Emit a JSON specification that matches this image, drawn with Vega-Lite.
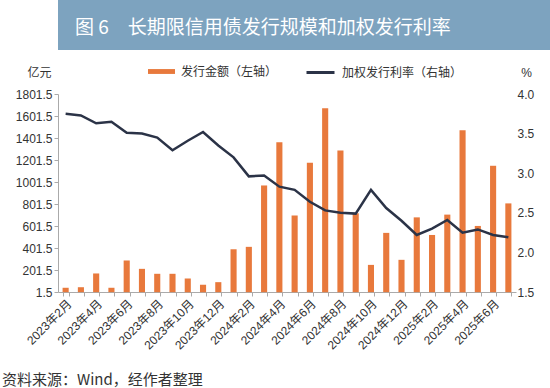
{
  "$schema": "https://vega.github.io/schema/vega-lite/v6.json",
  "padding": 0,
  "background": "white",
  "spacing": 7,
  "resolve": {"legend": {"fill": "independent", "stroke": "independent"}},
  "config": {
    "view": {"stroke": null},
    "font": "Liberation Sans, Noto Sans CJK SC"
  },
  "vconcat": [
    {
      "width": 550,
      "height": 50,
      "view": {"fill": "#7DA3BF", "stroke": null},
      "data": {"values": [{"t": "图 6　长期限信用债发行规模和加权发行利率"}]},
      "mark": {
        "type": "text",
        "align": "left",
        "baseline": "middle",
        "x": 17,
        "y": 28,
        "color": "#FFFFFF",
        "fontSize": 19,
        "font": "Noto Sans CJK SC"
      },
      "encoding": {"text": {"field": "t", "type": "nominal"}}
    },
    {
      "spacing": 0,
      "resolve": {"legend": {"fill": "independent", "stroke": "independent"}},
      "hconcat": [
        {
          "width": 458,
          "height": 198,
          "title": {
            "text": "资料来源：Wind，经作者整理",
            "orient": "bottom",
            "anchor": "start",
            "frame": "bounds",
            "offset": 22,
            "dx": 2,
            "fontSize": 15,
            "fontWeight": "normal",
            "color": "#333333",
            "font": "Noto Sans CJK SC"
          },
          "data": {
            "values": [
              {"m": "2023年2月", "amt": 40, "rate": 3.75},
              {"m": "2023年3月", "amt": 45, "rate": 3.73},
              {"m": "2023年4月", "amt": 170, "rate": 3.63},
              {"m": "2023年5月", "amt": 40, "rate": 3.65},
              {"m": "2023年6月", "amt": 288, "rate": 3.51},
              {"m": "2023年7月", "amt": 212, "rate": 3.50},
              {"m": "2023年8月", "amt": 167, "rate": 3.45},
              {"m": "2023年9月", "amt": 167, "rate": 3.29},
              {"m": "2023年10月", "amt": 124, "rate": 3.41},
              {"m": "2023年11月", "amt": 67, "rate": 3.52},
              {"m": "2023年12月", "amt": 91, "rate": 3.35},
              {"m": "2024年1月", "amt": 390, "rate": 3.20},
              {"m": "2024年2月", "amt": 412, "rate": 2.96},
              {"m": "2024年3月", "amt": 970, "rate": 2.97},
              {"m": "2024年4月", "amt": 1364, "rate": 2.83},
              {"m": "2024年5月", "amt": 696, "rate": 2.79},
              {"m": "2024年6月", "amt": 1176, "rate": 2.64},
              {"m": "2024年7月", "amt": 1672, "rate": 2.53},
              {"m": "2024年8月", "amt": 1288, "rate": 2.50},
              {"m": "2024年9月", "amt": 717, "rate": 2.49},
              {"m": "2024年10月", "amt": 248, "rate": 2.79},
              {"m": "2024年11月", "amt": 539, "rate": 2.56},
              {"m": "2024年12月", "amt": 294, "rate": 2.40},
              {"m": "2025年1月", "amt": 680, "rate": 2.22},
              {"m": "2025年2月", "amt": 520, "rate": 2.30},
              {"m": "2025年3月", "amt": 705, "rate": 2.41},
              {"m": "2025年4月", "amt": 1473, "rate": 2.25},
              {"m": "2025年5月", "amt": 602, "rate": 2.29},
              {"m": "2025年6月", "amt": 1149, "rate": 2.22},
              {"m": "2025年7月", "amt": 807, "rate": 2.19}
            ]
          },
          "encoding": {
            "x": {
              "field": "m",
              "type": "ordinal",
              "sort": null,
              "scale": {"paddingInner": 0.6, "paddingOuter": 0.3},
              "axis": {
                "title": null,
                "labelAngle": -45,
                "labelExpr": "test(regexp('年([2468]|10|12)月'), datum.value) ? datum.value : ''",
                "tickBand": "extent",
                "tickSize": 4,
                "tickColor": "#AAAAAA",
                "domainColor": "#AAAAAA",
                "labelFontSize": 12,
                "labelColor": "#333333",
                "labelPadding": 2
              }
            }
          },
          "layer": [
            {
              "mark": {"type": "bar"},
              "encoding": {
                "y": {
                  "field": "amt",
                  "type": "quantitative",
                  "scale": {"domain": [1.5, 1801.5], "nice": false, "zero": false},
                  "axis": {
                    "title": "亿元",
                    "titleAngle": 0,
                    "titleX": -19,
                    "titleY": -22,
                    "titleAlign": "center",
                    "titleBaseline": "middle",
                    "titleFontSize": 12,
                    "titleFontWeight": "normal",
                    "titleFont": "Noto Sans CJK SC",
                    "titleColor": "#333333",
                    "values": [1.5, 201.5, 401.5, 601.5, 801.5, 1001.5, 1201.5, 1401.5, 1601.5, 1801.5],
                    "format": ".1f",
                    "labelFontSize": 12,
                    "labelColor": "#333333",
                    "labelPadding": 2,
                    "tickSize": 4,
                    "tickColor": "#AAAAAA",
                    "domainColor": "#AAAAAA",
                    "grid": false,
                    "minExtent": 58
                  }
                },
                "fill": {
                  "datum": "发行金额（左轴）",
                  "type": "nominal",
                  "scale": {"range": ["#E8793C"]},
                  "legend": {
                    "orient": "none",
                    "legendX": 90,
                    "legendY": -36,
                    "title": null,
                    "padding": 0,
                    "symbolType": "M-1,-0.18H1V0.18H-1Z",
                    "symbolSize": 729,
                    "symbolStrokeWidth": 0,
                    "labelFontSize": 12,
                    "labelFont": "Noto Sans CJK SC",
                    "labelColor": "#333333",
                    "labelOffset": 6
                  }
                }
              }
            },
            {
              "mark": {"type": "line", "strokeWidth": 2.5},
              "encoding": {
                "y": {
                  "field": "rate",
                  "type": "quantitative",
                  "scale": {"domain": [1.5, 4.0], "nice": false, "zero": false},
                  "axis": {
                    "orient": "right",
                    "title": "%",
                    "titleAngle": 0,
                    "titleX": 10,
                    "titleY": -22,
                    "titleAlign": "center",
                    "titleBaseline": "middle",
                    "titleFontSize": 12,
                    "titleFontWeight": "normal",
                    "titleColor": "#333333",
                    "values": [1.5, 2.0, 2.5, 3.0, 3.5, 4.0],
                    "format": ".1f",
                    "labelFontSize": 12,
                    "labelColor": "#333333",
                    "labelPadding": 1,
                    "ticks": false,
                    "domain": false,
                    "grid": false
                  }
                },
                "stroke": {
                  "datum": "加权发行利率（右轴）",
                  "type": "nominal",
                  "scale": {"range": ["#2B3347"]},
                  "legend": {
                    "orient": "none",
                    "legendX": 247,
                    "legendY": -37,
                    "title": null,
                    "padding": 0,
                    "symbolType": "stroke",
                    "symbolSize": 784,
                    "symbolStrokeWidth": 3,
                    "labelFontSize": 12,
                    "labelFont": "Noto Sans CJK SC",
                    "labelColor": "#333333",
                    "labelOffset": 6
                  }
                }
              }
            }
          ],
          "resolve": {"scale": {"y": "independent"}}
        }
      ]
    }
  ]
}
